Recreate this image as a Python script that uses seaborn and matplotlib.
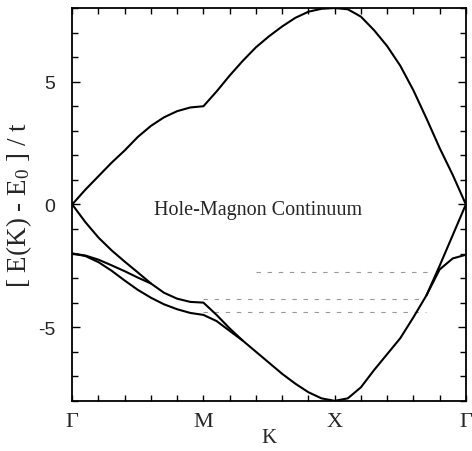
import numpy as np
import pandas as pd
import matplotlib
matplotlib.use('Agg')
import matplotlib.pyplot as plt
from matplotlib.ticker import MultipleLocator
import seaborn as sns

# k path: Gamma -> M -> X -> Gamma, each segment one unit long
k_path = [0.0, 0.1, 0.2, 0.3, 0.4, 0.5, 0.6, 0.7, 0.8, 0.9, 1.0,
          1.1, 1.2, 1.3, 1.4, 1.5, 1.6, 1.7, 1.8, 1.9, 2.0,
          2.1, 2.2, 2.3, 2.4, 2.5, 2.6, 2.7, 2.8, 2.9, 3.0]

# upper edge of the hole-magnon continuum
e_upper = [0.0, 0.6, 1.15, 1.7, 2.2, 2.75, 3.2, 3.55, 3.8, 3.95, 4.0,
           4.6, 5.25, 5.85, 6.4, 6.85, 7.25, 7.6, 7.85, 7.97, 8.0,
           7.95, 7.65, 7.1, 6.45, 5.65, 4.65, 3.5, 2.3, 1.2, 0.0]

# lower edge of the continuum
e_lower = [0.0, -0.72, -1.35, -1.87, -2.33, -2.77, -3.22, -3.6, -3.84, -3.97, -4.0,
           -4.5, -5.05, -5.55, -6.0, -6.45, -6.9, -7.3, -7.65, -7.9, -8.0,
           -7.9, -7.45, -6.75, -6.1, -5.45, -4.6, -3.7, -2.5, -1.25, 0.0]

# quasiparticle branches starting at -2 t
k_band_a = [0.0, 0.1, 0.2, 0.3, 0.4, 0.5, 0.6]
e_band_a = [-2.0, -2.08, -2.25, -2.48, -2.72, -2.98, -3.22]

k_band_b = [0.0, 0.1, 0.2, 0.3, 0.4, 0.5, 0.6, 0.7, 0.8, 0.9, 1.0, 1.1, 1.2, 1.3]
e_band_b = [-2.0, -2.1, -2.35, -2.7, -3.1, -3.48, -3.8, -4.07, -4.27, -4.42, -4.5,
            -4.75, -5.15, -5.55]

k_band_c = [2.7, 2.8, 2.9, 3.0]
e_band_c = [-3.7, -2.65, -2.2, -2.05]

# faint structure inside the continuum
feat_level = [-2.75, -3.85, -4.4]
feat_start = [1.4, 1.0, 1.0]
feat_end = [2.72, 2.65, 2.7]

tick_pos = [0, 1, 2, 3]
tick_lab = ['Γ', 'M', 'X', 'Γ']

sns.set_style('ticks')
plt.rcParams['font.family'] = ['Liberation Serif', 'DejaVu Serif']
plt.rcParams['mathtext.fontset'] = 'custom'
plt.rcParams['mathtext.rm'] = 'Liberation Serif'
plt.rcParams['mathtext.it'] = 'Liberation Serif:italic'

fig = plt.figure(figsize=(4.72, 4.52), dpi=100)
ax = fig.add_axes([0.153, 0.111, 0.834, 0.869])

for lev, a, b in zip(feat_level, feat_start, feat_end):
    sns.lineplot(x=[a, b], y=[lev, lev], color='0.6', lw=0.8,
                 linestyle=(0, (4, 6)), ax=ax)

curves = [(k_path, e_upper), (k_path, e_lower), (k_band_a, e_band_a),
          (k_band_b, e_band_b), (k_band_c, e_band_c)]
for kx, ey in curves:
    sns.lineplot(x=kx, y=ey, color='black', lw=1.5, sort=False,
                 estimator=None, ax=ax)

ax.set_xlim(0, 3)
ax.set_ylim(-8, 8)
ax.set_xticks(tick_pos)
ax.set_xticklabels(tick_lab, fontsize=16)
ax.xaxis.set_minor_locator(MultipleLocator(0.2))
ax.set_yticks([-5, 0, 5])
ax.set_yticklabels(['-5', '0', '5'], fontfamily='Liberation Sans', fontsize=14)
ax.yaxis.set_minor_locator(MultipleLocator(1))
ax.tick_params(which='both', direction='in', top=True, right=True, color='black')
ax.tick_params(which='major', length=6, width=1)
ax.tick_params(which='minor', length=4, width=1)
ax.tick_params(axis='y', which='major', pad=12)
ax.tick_params(axis='x', which='major', length=4, pad=8)
for sp in ax.spines.values():
    sp.set_linewidth(1.3)
    sp.set_color('black')

ax.set_xlabel('K', fontsize=15, labelpad=-2)
ax.set_ylabel('[ E(K) - E$_0$ ] / t', fontsize=19.5, labelpad=3)
ax.text(1.42, -0.2, 'Hole-Magnon Continuum', fontsize=14.5, ha='center', va='center')

fig.savefig('out.png', dpi=100)
